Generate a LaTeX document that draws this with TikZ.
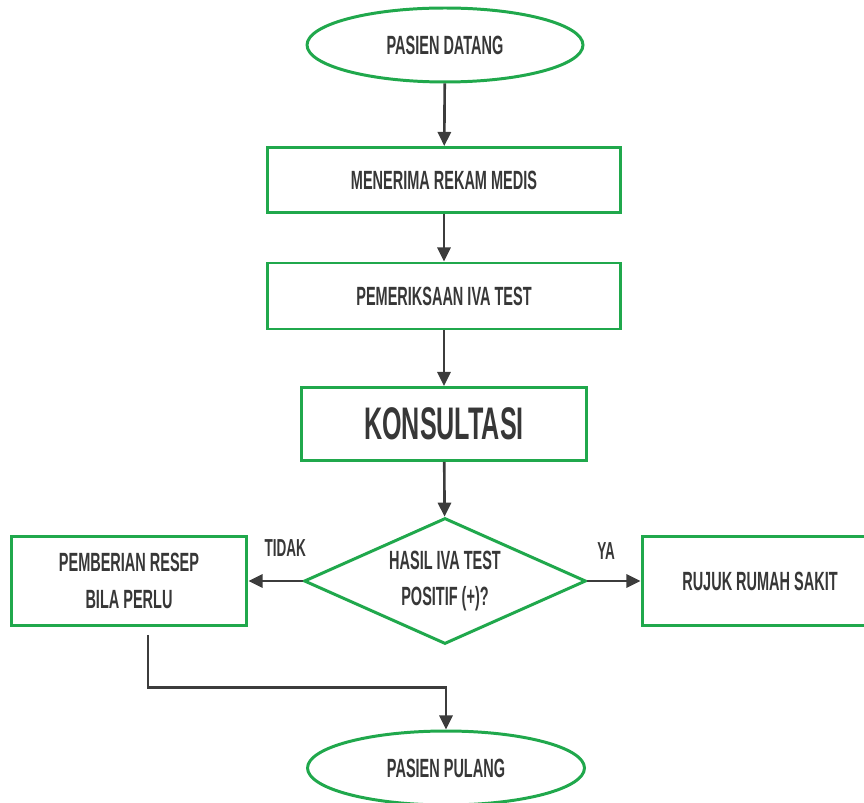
\documentclass[tikz,border=0pt]{standalone}
\usepackage{fontspec}
\setmainfont[FakeStretch=0.55]{Liberation Sans}
\usetikzlibrary{shapes.geometric,arrows.meta}
\definecolor{flowgreen}{RGB}{32,168,76}
\definecolor{flowtext}{RGB}{55,55,55}
\definecolor{flowline}{RGB}{60,60,60}
\tikzset{
  box/.style={draw=flowgreen,line width=1.7pt,fill=white,text=flowtext,
    font=\bfseries\fontsize{15}{21}\selectfont,align=center,inner sep=0pt},
  terminal/.style={box,ellipse},
  decision/.style={box,diamond,aspect=2.25},
  flow/.style={draw=flowline,line width=1.5pt,-{Triangle[length=8pt,width=7.5pt]}},
  branchlabel/.style={text=flowtext,font=\bfseries\fontsize{14}{16}\selectfont}
}
\begin{document}
\begin{tikzpicture}[x=0.02cm,y=-0.02cm]
  \useasboundingbox (0,0) rectangle (864,803);
  \node[terminal,minimum width=5.52cm,minimum height=1.48cm] (datang) at (445,45) {PASIEN DATANG};
  \node[box,minimum width=7.06cm,minimum height=1.3cm] (rekam) at (444,180) {MENERIMA REKAM MEDIS};
  \node[box,minimum width=7.06cm,minimum height=1.32cm] (iva) at (444,296) {PEMERIKSAAN IVA TEST};
  \node[box,minimum width=5.7cm,minimum height=1.46cm,font=\bfseries\fontsize{26}{30}\selectfont] (konsul) at (444,424) {KONSULTASI};
  \node[decision,minimum width=5.64cm,minimum height=2.52cm] (hasil) at (445,581) {HASIL IVA TEST\\POSITIF (+)?};
  \node[box,minimum width=4.72cm,minimum height=1.78cm] (resep) at (129,581) {PEMBERIAN RESEP\\BILA PERLU};
  \node[box,minimum width=4.72cm,minimum height=1.78cm] (rujuk) at (760,581) {RUJUK RUMAH SAKIT};
  \node[terminal,minimum width=5.54cm,minimum height=1.48cm] (pulang) at (446,768) {PASIEN PULANG};
  % alur utama
  \draw[flow] (datang) -- (rekam);
  \draw[flow] (rekam) -- (iva);
  \draw[flow] (iva) -- (konsul);
  \draw[flow] (konsul) -- (hasil);
  \draw[flow] (hasil) -- node[branchlabel,above=10pt,pos=0.32] {TIDAK} (resep);
  \draw[flow] (hasil) -- node[branchlabel,above=8pt,pos=0.35] {YA} (rujuk);
  \draw[flow] ([xshift=0.38cm,yshift=-0.16cm]resep.south) |- ([yshift=0.84cm]pulang.north) -- (pulang.north);
\end{tikzpicture}
\end{document}
